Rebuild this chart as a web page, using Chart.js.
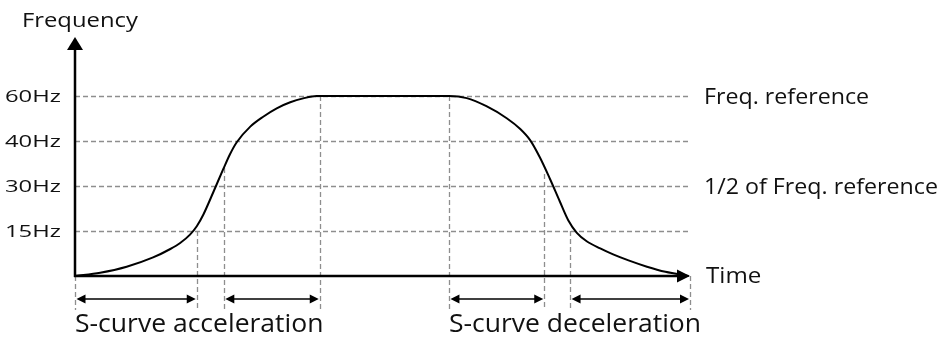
<!DOCTYPE html>
<html>
<head>
<meta charset="utf-8">
<script src="https://cdn.jsdelivr.net/npm/chart.js@4/dist/chart.umd.min.js"></script>
<style>
  html, body { margin: 0; padding: 0; background: #fff; }
  canvas { display: block; }
</style>
</head>
<body>
<canvas id="sCurveChart" width="946" height="337"></canvas>
<script>
// time axis runs 0..100, frequency axis in drawing levels (60 = reference)
const accelTime = [0, 4.1, 8.4, 12.7, 15.5, 17.1, 18.7, 19.8, 20.9, 22.5, 24.1, 25.2, 26.3, 28.5, 30.6, 32.8, 35, 37.1, 39.3, 39.8];
const accelFreq = [0, 1.1, 3.1, 6.2, 9, 11, 13.8, 16.6, 20.6, 28, 35.6, 40.6, 44.6, 49.8, 53.1, 55.9, 57.9, 59.2, 60, 60];
const decelTime = [60.8, 63.7, 66.9, 70.2, 72.4, 74, 75.6, 77.2, 78.8, 80.2, 81.6, 83.2, 85.4, 87.5, 90, 93, 96, 99.8];
const decelFreq = [60, 59.3, 56.6, 52.6, 49, 45.3, 39.5, 32.5, 25, 18.6, 14.4, 11.6, 9.2, 7.2, 5.2, 3.1, 1.4, 0];

const levelTicks = [15, 30, 45, 60];
const levelLabels = ['15Hz', '30Hz', '40Hz', '60Hz'];
const refLevels = [60, 30];
const refLabels = ['Freq. reference', '1/2 of Freq. reference'];

// vertical markers: where each section starts/ends and how high the dashed line reaches
const markerTimes = [0, 19.8, 24.2, 39.8, 60.8, 76.3, 80.5, 100];
const markerTops = [0, 15, 36, 60, 60, 34, 15, 0];
const spans = [[0, 19.8], [24.2, 39.8], [60.8, 76.3], [80.5, 100]];
const phaseLabels = ['S-curve acceleration', 'S-curve deceleration'];
const phaseStarts = [0, 60.8];

const FONT = '"Open Sans", "DejaVu Sans", sans-serif';
const GRID = '#8e8e8e';

const points = accelTime.map((t, i) => ({ x: t, y: accelFreq[i] }))
  .concat(decelTime.map((t, i) => ({ x: t, y: decelFreq[i] })));

// labels are drawn a little wider than the font's natural width
function text(ctx, str, x, y, size, align, sx) {
  ctx.save();
  ctx.font = size + 'px ' + FONT;
  ctx.fillStyle = '#111';
  ctx.textAlign = align || 'left';
  ctx.textBaseline = 'alphabetic';
  ctx.translate(x, y);
  ctx.scale(sx || 1, 1);
  ctx.fillText(str, 0, 0);
  ctx.restore();
}

function arrowHead(ctx, x, y, dir, len, half) {
  ctx.beginPath();
  if (dir === 'up') {
    ctx.moveTo(x, y); ctx.lineTo(x - half, y + len); ctx.lineTo(x + half, y + len);
  } else if (dir === 'right') {
    ctx.moveTo(x, y); ctx.lineTo(x - len, y - half); ctx.lineTo(x - len, y + half);
  } else {
    ctx.moveTo(x, y); ctx.lineTo(x + len, y - half); ctx.lineTo(x + len, y + half);
  }
  ctx.closePath();
  ctx.fill();
}

const diagram = {
  id: 'diagram',
  beforeDatasetsDraw(chart) {
    const { ctx, chartArea: a, scales: { x, y } } = chart;
    ctx.save();
    ctx.strokeStyle = GRID;
    ctx.lineWidth = 1.3;
    ctx.setLineDash([5, 3]);
    levelTicks.forEach(v => {
      const py = Math.round(y.getPixelForValue(v)) + 0.5;
      ctx.beginPath(); ctx.moveTo(a.left, py); ctx.lineTo(a.right, py); ctx.stroke();
    });
    markerTimes.forEach((t, i) => {
      const px = Math.round(x.getPixelForValue(t)) + 0.5;
      ctx.beginPath();
      ctx.moveTo(px, y.getPixelForValue(markerTops[i]));
      ctx.lineTo(px, a.bottom + 34);
      ctx.stroke();
    });
    ctx.restore();
  },
  afterDatasetsDraw(chart) {
    const { ctx, chartArea: a, scales: { x, y } } = chart;
    const y0 = y.getPixelForValue(0);
    ctx.save();
    ctx.strokeStyle = '#000';
    ctx.fillStyle = '#000';
    ctx.lineWidth = 2.5;
    // axes
    ctx.beginPath();
    ctx.moveTo(a.left, y0 + 1);
    ctx.lineTo(a.left, a.top + 10);
    ctx.moveTo(a.left - 1, y0);
    ctx.lineTo(a.right - 10, y0);
    ctx.stroke();
    arrowHead(ctx, a.left, a.top + 1, 'up', 13, 8);
    arrowHead(ctx, a.right, y0, 'right', 13, 6.5);

    // section arrows
    const ay = a.bottom + 23;
    ctx.lineWidth = 1.6;
    spans.forEach(([t0, t1]) => {
      const x0 = x.getPixelForValue(t0) + 1.5;
      const x1 = x.getPixelForValue(t1) - 1;
      ctx.beginPath(); ctx.moveTo(x0 + 6, ay); ctx.lineTo(x1 - 6, ay); ctx.stroke();
      arrowHead(ctx, x0, ay, 'left', 9, 4.5);
      arrowHead(ctx, x1, ay, 'right', 9, 4.5);
    });
    ctx.restore();

    // labels
    text(ctx, 'Frequency', 22, 27, 20, 'left', 1.19);
    levelTicks.forEach((v, i) => text(ctx, levelLabels[i], 5, y.getPixelForValue(v) + 6, 17, 'left', 1.4));
    refLevels.forEach((v, i) => text(ctx, refLabels[i], 704, y.getPixelForValue(v) + 8, 21, 'left', 1.105));
    text(ctx, 'Time', 706, y0 + 7, 21, 'left', 1.15);
    phaseLabels.forEach((s, i) => text(ctx, s, x.getPixelForValue(phaseStarts[i]), a.bottom + 56, 26, 'left', 1.02));
  }
};

new Chart(document.getElementById('sCurveChart'), {
  type: 'line',
  data: {
    datasets: [{
      data: points,
      borderColor: '#000',
      borderWidth: 2,
      pointRadius: 0,
      cubicInterpolationMode: 'monotone',
      clip: false
    }]
  },
  options: {
    responsive: false,
    devicePixelRatio: 1,
    animation: false,
    layout: { padding: { left: 75, right: 256, top: 36, bottom: 61 } },
    plugins: { legend: { display: false }, tooltip: { enabled: false } },
    scales: {
      x: { type: 'linear', min: 0, max: 100, display: false },
      y: { type: 'linear', min: 0, max: 80, display: false }
    }
  },
  plugins: [diagram]
});
</script>
</body>
</html>
